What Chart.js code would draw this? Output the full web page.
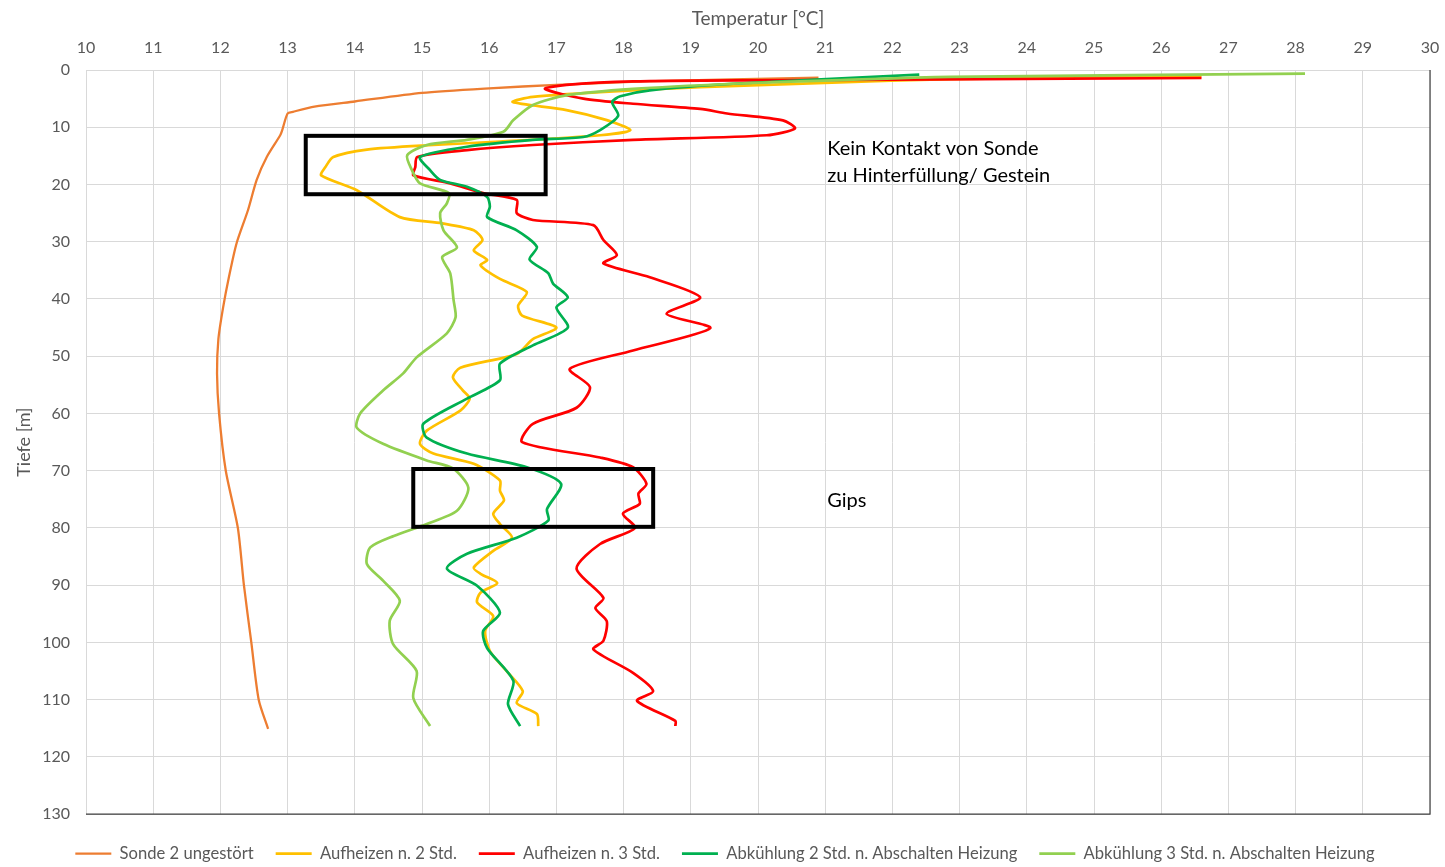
<!DOCTYPE html>
<html>
<head>
<meta charset="utf-8">
<script src="https://cdn.jsdelivr.net/npm/chart.js@4.4.1/dist/chart.umd.min.js"></script>
<style>
  body { margin: 0; background: #fff; }
  #wrap { width: 1445px; height: 867px; }
</style>
</head>
<body>
<div id="wrap"><canvas id="chart"></canvas></div>
<script>
// Temperaturprofile Sonde 2 - Tiefe [m] gegen Temperatur [°C]
var sondeDepth = [1.35, 2.0, 2.6, 3.2, 4.0, 5.5, 6.4, 7.3, 7.6, 10.5, 11.4, 15.2, 19.2, 24.5, 30.3, 36, 41.5, 47, 53, 60, 70, 80, 90, 100, 110, 115.1];
var sondeTemp  = [20.9, 18.3, 17.0, 16.0, 15.0, 14.0, 13.4, 13.08, 13.0, 12.92, 12.89, 12.69, 12.54, 12.41, 12.24, 12.13, 12.04, 11.97, 11.95, 11.98, 12.08, 12.26, 12.35, 12.46, 12.57, 12.71];

var heat2Depth = [1.05, 1.6, 2.2, 3.0, 3.85, 4.7, 5.6, 7.0, 8.75, 10.5, 11.4, 12.5, 13.1, 13.9, 15.2, 17.0, 18.4, 21.0, 25.7, 26.8, 28.0, 29.7, 31.5, 33.2, 34.1, 36.5, 38.8, 41.2, 42.9, 45.0, 47.0, 49.6, 52.0, 53.7, 56.0, 57.4, 59.5, 63.0, 65.3, 67.0, 68.8, 71.7, 73.5, 75.2, 77.5, 79.3, 81.7, 84.0, 86.9, 88.0, 89.6, 91.3, 93.0, 95.4, 98.0, 101.5, 105.0, 108.5, 110.6, 112.5, 114.6];
var heat2Temp  = [26.6, 22.86, 21.1, 19.14, 17.65, 16.65, 16.35, 17.15, 17.75, 18.1, 17.65, 16.16, 15.17, 14.18, 13.68, 13.56, 13.5, 14.03, 14.67, 15.3, 15.77, 15.9, 15.77, 15.97, 15.87, 16.16, 16.56, 16.43, 16.49, 17.0, 16.65, 16.41, 15.57, 15.46, 15.61, 15.71, 15.57, 15.07, 14.97, 15.17, 15.77, 16.16, 16.16, 16.22, 16.06, 16.16, 16.34, 16.06, 15.77, 15.87, 16.12, 15.87, 15.82, 16.06, 15.94, 16.01, 16.26, 16.5, 16.41, 16.71, 16.73];

var heat3Depth = [1.4, 1.8, 2.0, 2.6, 3.3, 5.0, 5.9, 6.8, 7.6, 8.8, 10.2, 11.4, 12.2, 13.1, 14.0, 15.2, 17.0, 18.4, 19.8, 21.5, 22.7, 25.0, 26.2, 27.1, 29.7, 32.3, 33.8, 36.2, 39.7, 42.6, 45.1, 49.0, 52.2, 55.4, 59.0, 61.8, 65.0, 67.7, 69.4, 72.3, 74.0, 75.8, 77.5, 80.0, 82.8, 87.1, 92.2, 94.0, 96.3, 99.7, 101.2, 105.3, 108.5, 110.2, 113.7, 114.6];
var heat3Temp  = [26.6, 20.0, 18.14, 17.15, 16.83, 17.4, 18.14, 19.14, 19.54, 20.37, 20.55, 20.13, 18.14, 16.65, 15.67, 14.93, 14.9, 14.87, 15.42, 15.91, 16.41, 16.41, 16.65, 17.55, 17.7, 17.9, 17.7, 18.39, 19.14, 18.64, 19.29, 18.14, 17.2, 17.5, 17.3, 16.65, 16.49, 17.65, 18.14, 18.34, 18.22, 18.24, 17.99, 18.17, 17.65, 17.3, 17.7, 17.58, 17.75, 17.7, 17.55, 18.14, 18.44, 18.2, 18.77, 18.77];

var cool2Depth = [0.8, 2.4, 3.55, 4.6, 5.6, 8.0, 10.5, 11.7, 12.2, 13.4, 15.2, 17.5, 19.2, 20.4, 22.2, 23.9, 25.7, 28.0, 30.9, 33.1, 35.5, 37.3, 39.7, 41.5, 45.0, 48.1, 51.3, 54.2, 57.4, 61.8, 64.2, 67.0, 69.4, 72.3, 76.7, 78.7, 81.7, 84.5, 87.1, 90.1, 94.8, 98.0, 101.0, 106.7, 110.8, 114.6];
var cool2Temp  = [22.4, 19.63, 18.39, 17.95, 17.83, 17.92, 17.65, 17.4, 16.65, 15.67, 14.97, 15.12, 15.27, 15.67, 15.97, 16.01, 15.97, 16.41, 16.71, 16.6, 16.88, 16.95, 17.17, 17.0, 17.17, 16.65, 16.16, 16.16, 15.67, 15.02, 15.07, 15.67, 16.56, 17.07, 16.86, 16.88, 16.41, 15.67, 15.37, 15.82, 16.16, 15.91, 15.97, 16.36, 16.28, 16.46];

var cool3Depth = [0.65, 1.2, 1.8, 2.4, 3.3, 4.4, 6.1, 8.75, 10.8, 12.2, 13.1, 14.9, 17.5, 19.8, 21.5, 23.3, 25.0, 28.0, 31.0, 32.7, 35.5, 40.2, 43.2, 46.0, 50.2, 53.0, 56.0, 60.0, 62.5, 65.3, 68.2, 69.6, 73.0, 77.0, 79.3, 81.4, 83.4, 86.3, 89.2, 92.7, 96.2, 100.3, 105.0, 109.7, 114.6];
var cool3Temp  = [28.14, 22.86, 21.1, 19.63, 18.14, 17.16, 16.65, 16.36, 16.21, 15.67, 15.07, 14.78, 14.85, 14.97, 15.4, 15.37, 15.27, 15.32, 15.52, 15.3, 15.42, 15.47, 15.5, 15.37, 14.92, 14.72, 14.42, 14.08, 14.03, 14.42, 15.07, 15.46, 15.69, 15.52, 15.07, 14.58, 14.23, 14.18, 14.42, 14.67, 14.52, 14.57, 14.92, 14.87, 15.12];

var seriesLabels = ['Sonde 2 ungestört', 'Aufheizen n. 2 Std.', 'Aufheizen n. 3 Std.', 'Abkühlung 2 Std. n. Abschalten Heizung', 'Abkühlung 3 Std. n. Abschalten Heizung'];
var seriesColors = ['#ED7D31', '#FFC000', '#FF0000', '#00B050', '#92D050'];

// markierte Bereiche [T von, T bis, Tiefe von, Tiefe bis]
var zoneBoxes = [[13.27, 16.84, 11.5, 21.7], [14.87, 18.44, 69.7, 79.8]];
var zoneNotes = [
  { t: 21.03, d: 13.7, text: 'Kein Kontakt von Sonde' },
  { t: 21.03, d: 18.5, text: 'zu Hinterfüllung/ Gestein' },
  { t: 21.03, d: 75.2, text: 'Gips' }
];

function toPoints(depth, temp) {
  var pts = [];
  for (var i = 0; i < depth.length; i++) pts.push({ x: temp[i], y: depth[i] });
  return pts;
}

var allDepth = [sondeDepth, heat2Depth, heat3Depth, cool2Depth, cool3Depth];
var allTemp = [sondeTemp, heat2Temp, heat3Temp, cool2Temp, cool3Temp];

var datasets = seriesLabels.map(function(label, i) {
  return {
    label: label,
    data: toPoints(allDepth[i], allTemp[i]),
    borderColor: seriesColors[i],
    backgroundColor: seriesColors[i],
    borderWidth: i == 0 ? 2.3 : 2.7,
    showLine: true,
    pointRadius: 0,
    tension: 0.25,
    order: 5 - i
  };
});

var font = 'Lato';

// Rahmen unten/rechts, Kästen und Beschriftungen
var notesPlugin = {
  id: 'notes',
  beforeDatasetsDraw: function(chart) {
    var ctx = chart.ctx, a = chart.chartArea;
    ctx.save();
    ctx.strokeStyle = '#404040';
    ctx.lineWidth = 1.2;
    ctx.beginPath();
    ctx.moveTo(a.left, a.bottom);
    ctx.lineTo(a.right, a.bottom);
    ctx.lineTo(a.right, a.top);
    ctx.stroke();
    ctx.restore();
  },
  afterDatasetsDraw: function(chart) {
    var ctx = chart.ctx;
    var xs = chart.scales.x, ys = chart.scales.y;
    ctx.save();
    ctx.strokeStyle = '#000';
    ctx.lineWidth = 4;
    zoneBoxes.forEach(function(b) {
      var x0 = xs.getPixelForValue(b[0]), x1 = xs.getPixelForValue(b[1]);
      var y0 = ys.getPixelForValue(b[2]), y1 = ys.getPixelForValue(b[3]);
      ctx.strokeRect(x0, y0, x1 - x0, y1 - y0);
    });
    ctx.fillStyle = '#000';
    ctx.font = '20px ' + font;
    ctx.textAlign = 'left';
    ctx.textBaseline = 'middle';
    zoneNotes.forEach(function(n) {
      ctx.fillText(n.text, xs.getPixelForValue(n.t), ys.getPixelForValue(n.d));
    });
    ctx.restore();
  }
};

var ctx = document.getElementById('chart').getContext('2d');
var chart = new Chart(ctx, {
  type: 'scatter',
  data: { datasets: datasets },
  options: {
    responsive: true,
    maintainAspectRatio: false,
    animation: false,
    layout: { padding: { left: 20, right: 15, top: 0, bottom: -5 } },
    plugins: {
      tooltip: { enabled: false },
      legend: {
        position: 'bottom',
        title: { display: true, text: ' ', font: { size: 1 }, padding: { top: 4, bottom: 4 } },
        labels: {
          usePointStyle: true,
          pointStyle: 'line',
          pointStyleWidth: 36,
          padding: 22,
          color: '#595959',
          font: { family: font, size: 16.6 },
          sort: function(a, b) { return a.datasetIndex - b.datasetIndex; }
        }
      }
    },
    scales: {
      x: {
        type: 'linear',
        position: 'top',
        min: 10,
        max: 30,
        afterFit: function(s) { s.height = 70; s.paddingRight = 0; s.paddingLeft = 0; },
        ticks: { stepSize: 1, padding: 13, color: '#595959', font: { family: font, size: 16 } },
        grid: { color: '#D9D9D9', drawTicks: false },
        border: { color: '#D9D9D9' },
        title: { display: true, text: 'Temperatur [°C]', color: '#595959', font: { family: font, size: 19 }, padding: { top: 7, bottom: 0 } }
      },
      y: {
        type: 'linear',
        reverse: true,
        min: 0,
        max: 130,
        afterFit: function(s) { s.width = 66; },
        ticks: { stepSize: 10, padding: 16, color: '#595959', font: { family: font, size: 16 } },
        grid: { color: '#D9D9D9', drawTicks: false },
        border: { color: '#D9D9D9' },
        title: { display: true, text: 'Tiefe [m]', color: '#595959', font: { family: font, size: 18 }, padding: { top: -7, bottom: 0 } }
      }
    }
  },
  plugins: [notesPlugin]
});
</script>
</body>
</html>
